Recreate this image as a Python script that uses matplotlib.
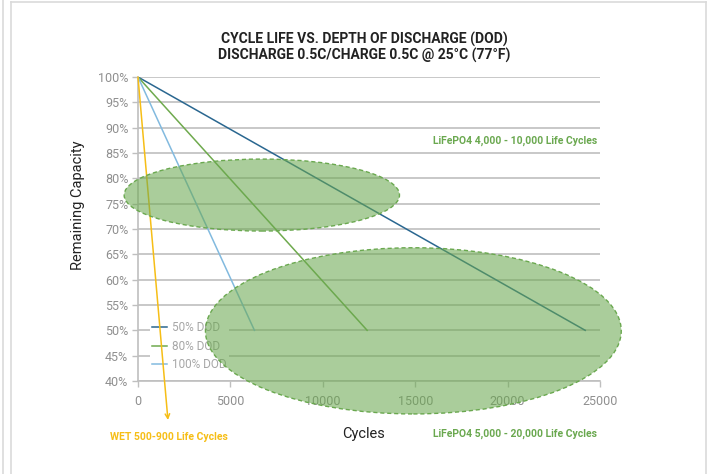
import matplotlib.pyplot as plt
from matplotlib.patches import Ellipse
from matplotlib.lines import Line2D

# --- data ---
SERIES = ["50% DOD", "80% DOD", "100% DOD"]
END_CYCLES = [24200, 12400, 6300]
END_CAPACITY = [50, 50, 50]
COLORS = ["#2A6790", "#6FAA4E", "#82BADF"]

WET_END = (1620, 32.3)  # arrow tip of the wet battery line, below the axis

# ellipses: (center cycles, center capacity, width cycles, height capacity)
ELLIPSES = [(6700, 76.7, 14900, 14.2), (14900, 49.9, 22500, 32.8)]

X_TICKS = [0, 5000, 10000, 15000, 20000, 25000]
Y_TICKS = list(range(40, 101, 5))

GREY = "#8F8F8F"
GREEN = "#6AA84F"
YELLOW = "#F6BE16"

plt.rcParams["font.family"] = ["Roboto", "DejaVu Sans"]

fig = plt.figure(figsize=(7.12, 4.74), dpi=100)
ax = fig.add_axes([138 / 712, 1 - 381 / 474, 462 / 712, 304 / 474])

# page frame
fig.add_artist(Line2D([2.5 / 712, 2.5 / 712], [0, 1], color="#DADADA", lw=1.2))
fig.add_artist(Line2D([10.5 / 712, 10.5 / 712], [0, 1 - 1.5 / 474], color="#DADADA", lw=1.2))
fig.add_artist(Line2D([10.5 / 712, 706 / 712], [1 - 1.5 / 474, 1 - 1.5 / 474], color="#DADADA", lw=1.2))
fig.add_artist(Line2D([706 / 712, 706 / 712], [0, 1 - 1.5 / 474], color="#DADADA", lw=1.2))

ax.set_xlim(0, 25000)
ax.set_ylim(40, 100)
ax.set_xticks(X_TICKS)
ax.set_yticks(Y_TICKS)
ax.set_yticklabels([f"{v}%" for v in Y_TICKS])
ax.set_xticklabels([str(v) for v in X_TICKS])
ax.tick_params(axis="both", colors="#BFBFBF", labelcolor=GREY, labelsize=9, length=4, width=1)
ax.tick_params(axis="x", pad=6)
ax.tick_params(axis="y", pad=3)
for s in ["top", "right"]:
    ax.spines[s].set_visible(False)
for s in ["left", "bottom"]:
    ax.spines[s].set_color("#BFBFBF")
    ax.spines[s].set_linewidth(1.2)
ax.grid(axis="y", color="#BFBFBF", lw=1.2, zorder=0)
ax.set_axisbelow(True)

for name, xe, ye, c in zip(SERIES, END_CYCLES, END_CAPACITY, COLORS):
    ax.plot([0, xe], [100, ye], color=c, lw=1.1, label=name, zorder=3)

ax.annotate("", xy=WET_END, xytext=(0, 100), xycoords="data", annotation_clip=False,
            arrowprops=dict(arrowstyle="->", color=YELLOW, lw=1.1, shrinkA=0, shrinkB=0,
                            mutation_scale=8), zorder=3)

for cx, cy, w, h in ELLIPSES:
    e = Ellipse((cx, cy), w, h, facecolor=GREEN, alpha=0.57, edgecolor="none", clip_on=False, zorder=4)
    ax.add_patch(e)
    e2 = Ellipse((cx, cy), w, h, facecolor="none", edgecolor=GREEN, lw=1.0, ls=(0, (3, 2)),
                 clip_on=False, zorder=4)
    ax.add_patch(e2)

leg = ax.legend(loc="lower left", bbox_to_anchor=(0.026, 0.025), frameon=True, fancybox=False,
                edgecolor="none", facecolor="white", framealpha=1, fontsize=8.5,
                handlelength=1.2, handletextpad=0.5, labelspacing=0.45, borderpad=0.2,
                borderaxespad=0)
leg.set_zorder(2.5)
for t in leg.get_texts():
    t.set_color("#A6A6A6")

ax.set_ylabel("Remaining Capacity", fontsize=10.5, color="#222222")
ax.set_xlabel("Cycles", fontsize=10.5, color="#222222")
ax.yaxis.set_label_coords(-0.115, 0.579)
ax.xaxis.set_label_coords(0.488, -0.151)

fig.text(364 / 712, 1 - 39 / 474, "CYCLE LIFE VS. DEPTH OF DISCHARGE (DOD)", ha="center", va="center",
         fontsize=10, fontweight="bold", color="#222222")
fig.text(364 / 712, 1 - 55 / 474, "DISCHARGE 0.5C/CHARGE 0.5C @ 25°C (77°F)", ha="center", va="center",
         fontsize=10, fontweight="bold", color="#222222")

fig.text(597 / 712, 1 - 141 / 474, "LiFePO4 4,000 - 10,000 Life Cycles", ha="right", va="center",
         fontsize=7.5, fontweight="bold", color=GREEN)
fig.text(597 / 712, 1 - 434 / 474, "LiFePO4 5,000 - 20,000 Life Cycles", ha="right", va="center",
         fontsize=7.5, fontweight="bold", color=GREEN)
fig.text(110 / 712, 1 - 437 / 474, "WET 500-900 Life Cycles", ha="left", va="center",
         fontsize=7.5, fontweight="bold", color=YELLOW)

fig.savefig("out.png", dpi=100)
